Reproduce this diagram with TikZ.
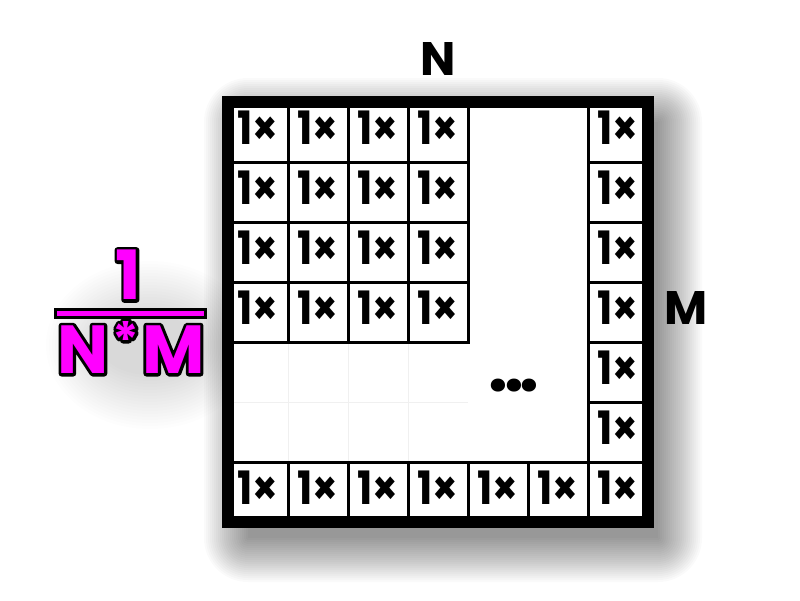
\documentclass[tikz,border=0pt]{standalone}
\usepackage{graphicx}
\usepackage{fontspec}
\setmainfont{Poppins}
\definecolor{mag}{HTML}{FF00FF}
\definecolor{faint}{HTML}{F0F0F0}
\newcommand\myast{{\fontsize{50}{50}\selectfont\raisebox{15pt}{*}}}
\newcommand\strokeon{\special{pdf:literal direct 0 0 0 RG 1 j 2 Tr 6 w}}
\newcommand\onex{\scalebox{0.88}[1]{1×}}
\begin{document}
\begin{tikzpicture}[x=1pt,y=-1pt,
  lbl/.style={font=\fontsize{47}{47}\selectfont\bfseries, inner sep=0pt},
  cell/.style={draw=black, line width=3pt, minimum size=60pt, inner sep=0pt, fill=white,
    text height=31pt, text depth=6pt, font=\fontsize{46}{46}\selectfont\bfseries},
  frac/.style={font=\fontsize{68}{68}\selectfont\bfseries, inner sep=0pt, text=mag},
  fracout/.style={font=\fontsize{68}{68}\selectfont\bfseries, inner sep=0pt, text=black},
  shad/.style={fill=black, opacity=0.018}]
\useasboundingbox[fill=white] (0,0) rectangle (800,600);
% shadow of the square
\foreach \i in {0,...,22}
  \fill[shad, rounded corners={\i*2pt}] ({248-\i*2},{122-\i*2}) rectangle ({658+\i*2},{538+\i*2});
% shadow of the fraction
\foreach \i in {0,...,18}
  \fill[black, opacity=0.007] (150,345) ellipse ({50+\i*3} and {30+\i*3});
% square
\fill[white] (228,102) rectangle (648,522);
\draw[faint, line width=1pt] (288,342) -- (288,462) (348,342) -- (348,462) (408,342) -- (408,462)
  (234,402) -- (468,402);
\foreach \c in {1,...,4}
  \foreach \r in {1,...,4}
    \node[cell] (c\c-\r) at ({228+60*\c-30},{102+60*\r-30}) {\onex};
\foreach \r in {1,...,7}
  \node[cell] (c7-\r) at ({228+60*7-30},{102+60*\r-30}) {\onex};
\foreach \c in {1,...,6}
  \node[cell] (c\c-7) at ({228+60*\c-30},{102+60*7-30}) {\onex};
\node[draw=black, line width=12pt, minimum size=420pt, inner sep=0pt] (frame) at (438,312) {};
\node[font=\fontsize{70}{70}\selectfont\bfseries, inner sep=0pt] (dots) at (514,386) {.\kern-4pt.\kern-4pt.};
% labels
\node[lbl] (N) at (438,58.5) {N};
\node[lbl] (M) at (686,308) {M};
% fraction
\node[fracout] (one-o) at (128.5,275) {\strokeon 1};
\node[fracout] (nm-o) at (131,347.5) {\strokeon N\kern4pt\myast\kern3pt M};
\node[frac] (one) at (128.5,275) {1};
\node[frac] (nm) at (131,347.5) {N\kern4pt\myast\kern3pt M};
\node[draw=black, fill=mag, line width=3pt, minimum width=150pt, minimum height=8pt, inner sep=0pt] (bar) at (130,313) {};
\end{tikzpicture}
\end{document}
